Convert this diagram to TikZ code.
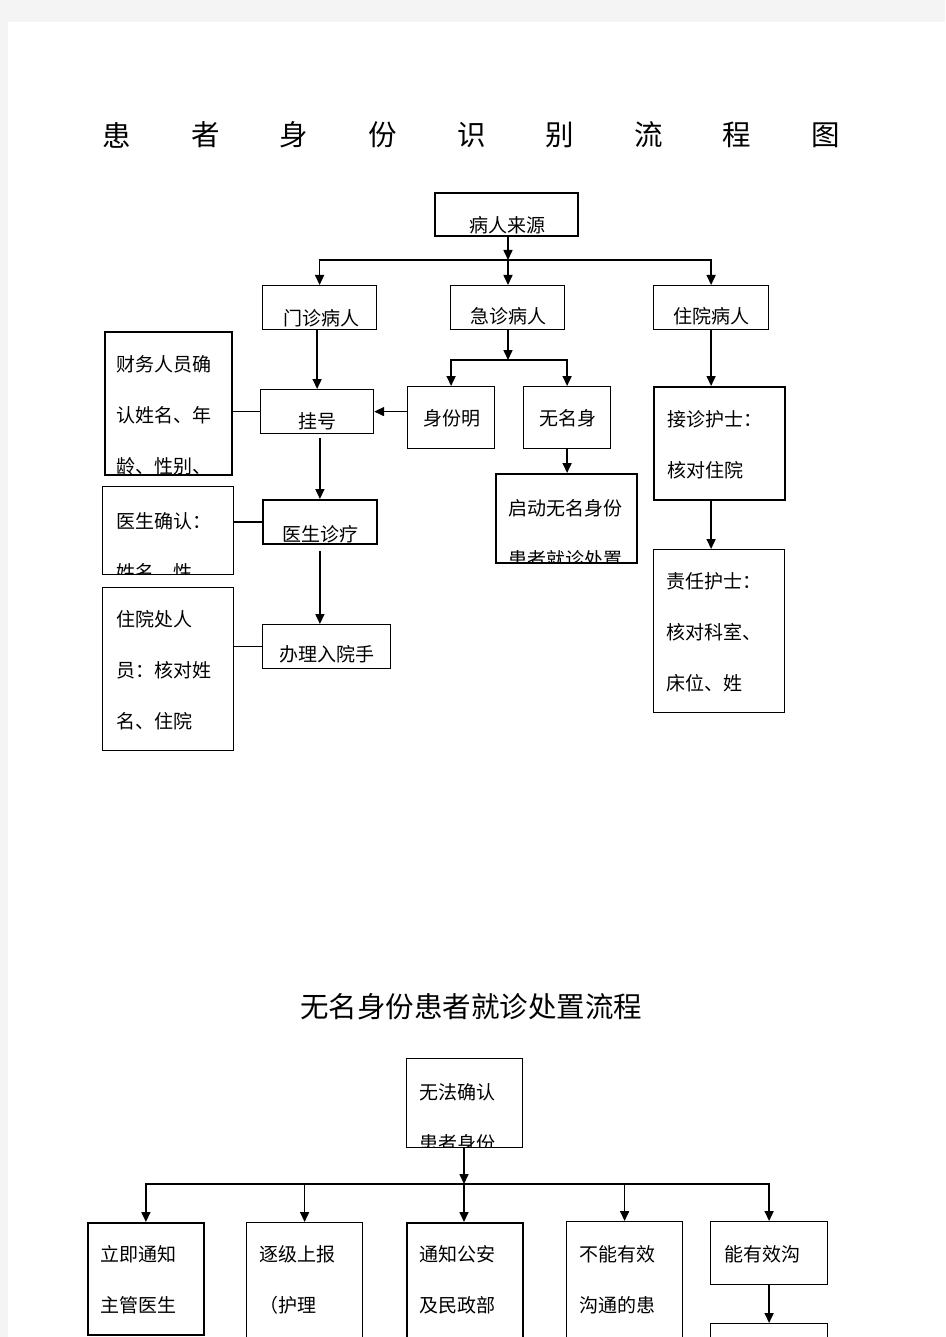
\documentclass[tikz,border=0pt]{standalone}
\usepackage{fontspec}
\setmainfont{Noto Sans CJK SC}
\usetikzlibrary{calc,arrows.meta}
\definecolor{pageGray}{HTML}{F4F4F4}

\begin{document}
\begin{tikzpicture}[
		x=1pt, y=-1pt,
		connector/.style={line width=1.6pt},
		arrow line/.style={connector, -{Triangle[length=10pt,width=9pt]}},
		every node/.style={color=black},
		]
		\tikzset{
			box/.style={draw, line width=1.2pt, inner sep=0pt, anchor=north west},
			boldBox/.style={box, line width=1.8pt},
			boxText/.style={draw=none, fill=none, inner sep=0pt, outer sep=0pt, minimum width=0pt, minimum height=0pt, anchor=north west, yshift=-1pt, align=left, font=\fontsize{19}{51}\selectfont},
			content/.style 2 args={path picture={\node[boxText] at ([shift={(#1)}]path picture bounding box.north west) {#2};}},
			titleChar/.style={font=\fontsize{28.5}{34}\selectfont},
		}
		\useasboundingbox (0,0) rectangle (945,1337);
		\fill[pageGray] (0,0) rectangle (945,1337);
		\fill[white] (8,22) rectangle (945,1337);
		\clip (0,0) rectangle (945,1337);
		
		\foreach \ch [count=\i from 0] in {患,者,身,份,识,别,流,程,图}{
			\node[titleChar] (title\i) at (117+88.6*\i,135) {\ch};
		}
		
		\node[boldBox, minimum width=143, minimum height=43, content={35,23}{病人来源}] (src) at (434,192) {};
		\node[box, minimum width=114, minimum height=44, content={21,23}{门诊病人}] (mz) at (262,285) {};
		\node[box, minimum width=114, minimum height=44, content={20,21}{急诊病人}] (jz) at (450,285) {};
		\node[box, minimum width=115, minimum height=44, content={20,21}{住院病人}] (zy) at (653,285) {};
		\node[boldBox, minimum width=127, minimum height=143, content={12,23}{财务人员确\\认姓名、年\\龄、性别、}] (cw) at (104,331) {};
		\node[box, minimum width=113, minimum height=44, content={38,22}{挂号}] (gh) at (260,389) {};
		\node[box, minimum width=87, minimum height=62, content={16,22}{身份明}] (sf) at (407,386) {};
		\node[box, minimum width=87, minimum height=62, content={16,22}{无名身}] (wm) at (523,386) {};
		\node[boldBox, minimum width=131, minimum height=113, content={14,23}{接诊护士：\\核对住院}] (js) at (653,386) {};
		\node[boldBox, minimum width=141, minimum height=89, content={13,25}{启动无名身份\\患者就诊处置}] (qd) at (495,473) {};
		\node[box, minimum width=131, minimum height=88, content={14,25}{医生确认：\\姓名、性}] (yq) at (102,486) {};
		\node[boldBox, minimum width=114, minimum height=44, content={20,25}{医生诊疗}] (ys) at (262,499) {};
		\node[box, minimum width=131, minimum height=163, content={13,22}{责任护士：\\核对科室、\\床位、姓}] (zr) at (653,549) {};
		\node[box, minimum width=131, minimum height=163, content={14,22}{住院处人\\员：核对姓\\名、住院}] (zyc) at (102,587) {};
		\node[box, minimum width=128, minimum height=44, content={17,20}{办理入院手}] (bl) at (262,624) {};
		
		\coordinate (busA) at (508,260);
		\draw[arrow line] (busA |- src.south) -- (busA);
		\draw[arrow line] (busA) -- (busA |- jz.north);
		\draw[arrow line] (busA) -| (mz.north);
		\draw[arrow line] (busA) -| (zy.north);
		
		\coordinate (busB) at (508,360);
		\draw[arrow line] (busB |- jz.south) -- (busB);
		\draw[arrow line] (busB) -| (sf.north);
		\draw[arrow line] (busB) -| (wm.north);
		\draw[arrow line] (wm.south) -- (wm.south |- qd.north);
		
		\draw[arrow line] (gh.north |- mz.south) -- (gh.north);
		\draw[arrow line] (sf.west |- gh.east) -- (gh.east);
		\draw[connector] (cw.east |- gh.west) -- (gh.west);
		\draw[arrow line, shorten <=4pt] (ys.north |- gh.south) -- (ys.north);
		\draw[connector] (yq.east |- ys.west) -- (ys.west);
		\draw[arrow line, shorten <=6pt] (ys.south) -- (ys.south |- bl.north);
		\draw[connector] (zyc.east |- bl.west) -- (bl.west);
		
		\draw[arrow line] (zy.south) -- (zy.south |- js.north);
		\draw[arrow line] (zy.south |- js.south) -- (zy.south |- zr.north);
		
		\node[titleChar] (subtitle) at (471,1007) {无名身份患者就诊处置流程};
		
		\node[box, minimum width=116, minimum height=89, content={13,24}{无法确认\\患者身份}] (wf) at (406,1058) {};
		\node[boldBox, minimum width=116, minimum height=112, content={13,22}{立即通知\\主管医生}] (lj) at (87,1222) {};
		\node[box, minimum width=116, minimum height=178, content={13,22}{逐级上报\\（护理}] (zj) at (246,1222) {};
		\node[boldBox, minimum width=116, minimum height=178, content={13,22}{通知公安\\及民政部}] (tz) at (406,1222) {};
		\node[box, minimum width=116, minimum height=179, content={13,23}{不能有效\\沟通的患}] (bn) at (566,1221) {};
		\node[box, minimum width=117, minimum height=63, content={14,23}{能有效沟}] (ny) at (710,1221) {};
		\node[box, minimum width=117, minimum height=77] (ny2) at (710,1323) {};
		
		\coordinate (busC) at (464,1184);
		\draw[arrow line] (busC |- wf.south) -- (busC);
		\draw[arrow line] (busC) -- (busC |- tz.north);
		\draw[arrow line] (busC) -| (lj.north);
		\draw[arrow line] (busC) -| (ny.north);
		\draw[arrow line] (zj.north |- busC) -- (zj.north);
		\draw[arrow line] (bn.north |- busC) -- (bn.north);
		\draw[arrow line] (ny.south) -- (ny2.north);
	\end{tikzpicture}
\end{document}
